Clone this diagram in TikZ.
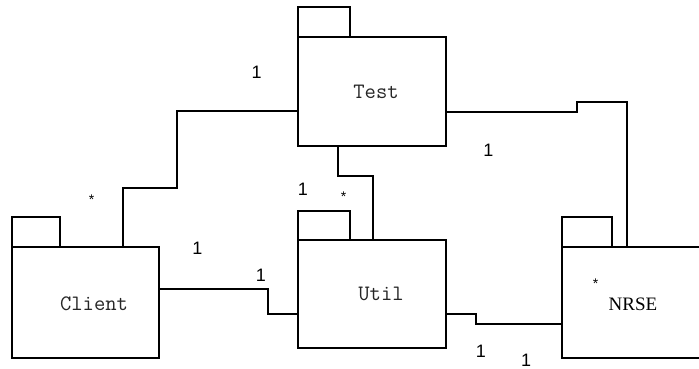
\documentclass[tikz,border=0pt]{standalone}
\usepackage{fontspec}
\usetikzlibrary{calc}
\newfontfamily\pkgserif{Liberation Serif}
\newfontfamily\multsans{Liberation Sans}
\tikzset{
  pkgbody/.style={draw, line width=2pt, inner sep=0pt, outer sep=0pt, anchor=north west},
  pkgtab/.style={draw, line width=2pt, inner sep=0pt, outer sep=0pt, anchor=south west,
                 minimum height=30pt},
  pkgname/.style={inner sep=0pt, text=black!85, font=\ttfamily\fontsize{22}{25}\selectfont},
  link/.style={line width=2pt},
  mult/.style={inner sep=0pt, font=\multsans\fontsize{18}{20}\selectfont},
  many/.style={inner sep=0pt, font=\multsans\fontsize{14}{16}\selectfont},
}
\begin{document}
\begin{tikzpicture}[x=1pt, y=-1pt]
  \clip (0,0) rectangle (699,369);
  \fill[white] (0,0) rectangle (699,369);

  % package bodies
  \node[pkgbody, minimum width=148pt, minimum height=109pt] (test) at (298,37) {};
  \node[pkgbody, minimum width=147.6pt, minimum height=110.4pt] (client) at (11.7,247.3) {};
  \node[pkgbody, minimum width=148pt, minimum height=108.3pt] (util) at (298,240) {};
  \node[pkgbody, minimum width=142pt, minimum height=111pt] (nrse) at (562,246.7) {};

  % package tabs
  \node[pkgtab, minimum width=52pt] (testtab) at (test.north west) {};
  \node[pkgtab, minimum width=48.6pt] (clienttab) at (client.north west) {};
  \node[pkgtab, minimum width=52pt, minimum height=29.3pt] (utiltab) at (util.north west) {};
  \node[pkgtab, minimum width=50pt] (nrsetab) at (nrse.north west) {};

  % package names
  \node[pkgname] (testname) at ([xshift=4pt]test.center) {Test};
  \node[pkgname] (clientname) at ([xshift=8.5pt, yshift=-1.5pt]client.center) {Client};
  \node[pkgname] (utilname) at ([xshift=9pt]util.center) {Util};
  \node[inner sep=0pt, font=\pkgserif\fontsize{19}{21}\selectfont] (nrsename) at (633,304) {NRSE};

  % associations
  \draw[link] ($(client.north west)+(111.3,0)$) |- (176.7,187.7) |- ($(test.north west)+(0,74)$);
  \draw[link] ($(test.south west)+(39.7,0)$) -- ++(0,29.7) -| ($(util.north west)+(74.7,0)$);
  \draw[link] ($(test.north east)+(0,74.7)$) -- ++(131,0) -- ++(0,-10) -| ($(nrse.north west)+(64.7,0)$);
  \draw[link] ($(client.north east)+(0,42)$) -- ++(109,0) |- ($(util.north west)+(0,74)$);
  \draw[link] ($(util.north east)+(0,74)$) -- ++(29.7,0) |- ($(nrse.north west)+(0,77.3)$);

  % multiplicities
  \node[mult] (m1) at (256.7,72.3) {1};
  \node[many] (m2) at (91.7,199.7) {*};
  \node[mult] (m3) at (197.5,248.3) {1};
  \node[mult] (m4) at (261,275.7) {1};
  \node[mult] (m5) at (302.8,189.2) {1};
  \node[many] (m6) at (343.7,196.5) {*};
  \node[mult] (m7) at (488.3,150.7) {1};
  \node[many] (m8) at (595.7,284) {*};
  \node[mult] (m9) at (481,351.7) {1};
  \node[mult] (m10) at (526,360) {1};
\end{tikzpicture}
\end{document}
